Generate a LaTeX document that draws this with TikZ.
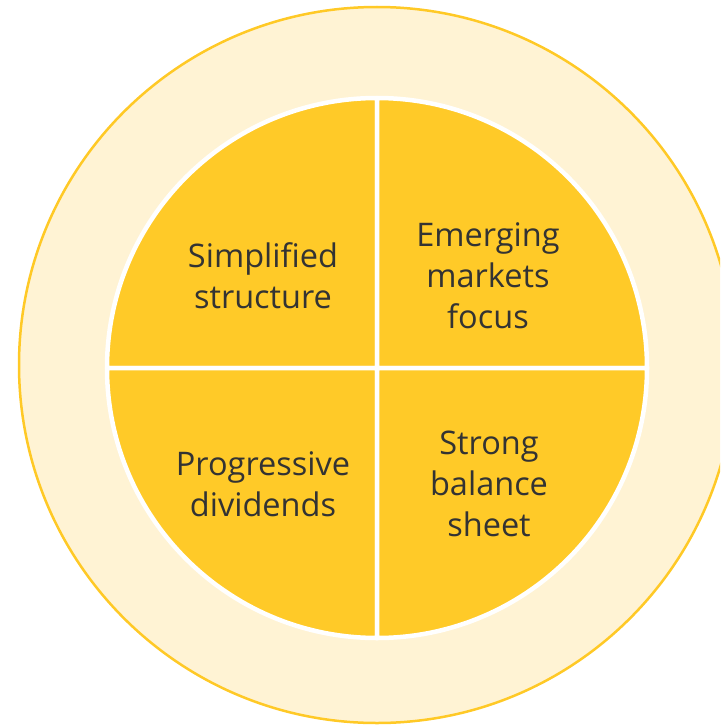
\documentclass[tikz,border=0pt]{standalone}
\usepackage{fontspec}
\setmainfont{Open Sans}
\definecolor{ringfill}{HTML}{FFF3D4}
\definecolor{ringline}{HTML}{FFC926}
\definecolor{quadfill}{HTML}{FFCA28}
\definecolor{labeltext}{HTML}{333333}
\begin{document}
\begin{tikzpicture}[x=1pt,y=-1pt,
  quad/.style={fill=quadfill,draw=white,line width=4.5pt,line join=round},
  label/.style={text=labeltext,align=center,font=\fontsize{32.5}{41}\selectfont}]
\useasboundingbox (0,0) rectangle (720,725);
\clip (0,0) rectangle (720,725);
% outer ring
\fill[ringfill,draw=ringline,line width=2.5pt] (377,365) circle[radius=358];
% four quadrants of the inner disc (y axis points down, so angles run clockwise)
\coordinate (c) at (377,368);
\def\R{270}
\draw[quad] (c) -- ++(0,-\R) arc[start angle=270,end angle=180,radius=\R] -- cycle;
\draw[quad] (c) -- ++(\R,0) arc[start angle=0,end angle=-90,radius=\R] -- cycle;
\draw[quad] (c) -- ++(-\R,0) arc[start angle=180,end angle=90,radius=\R] -- cycle;
\draw[quad] (c) -- ++(0,\R) arc[start angle=90,end angle=0,radius=\R] -- cycle;
% labels
\node[label] (tl) at (263,276) {Simplified\\structure};
\node[label] (tr) at (488,276) {Emerging\\markets\\focus};
\node[label] (bl) at (263,484) {Progressive\\dividends};
\node[label] (br) at (489,484) {Strong\\balance\\sheet};
\end{tikzpicture}
\end{document}
